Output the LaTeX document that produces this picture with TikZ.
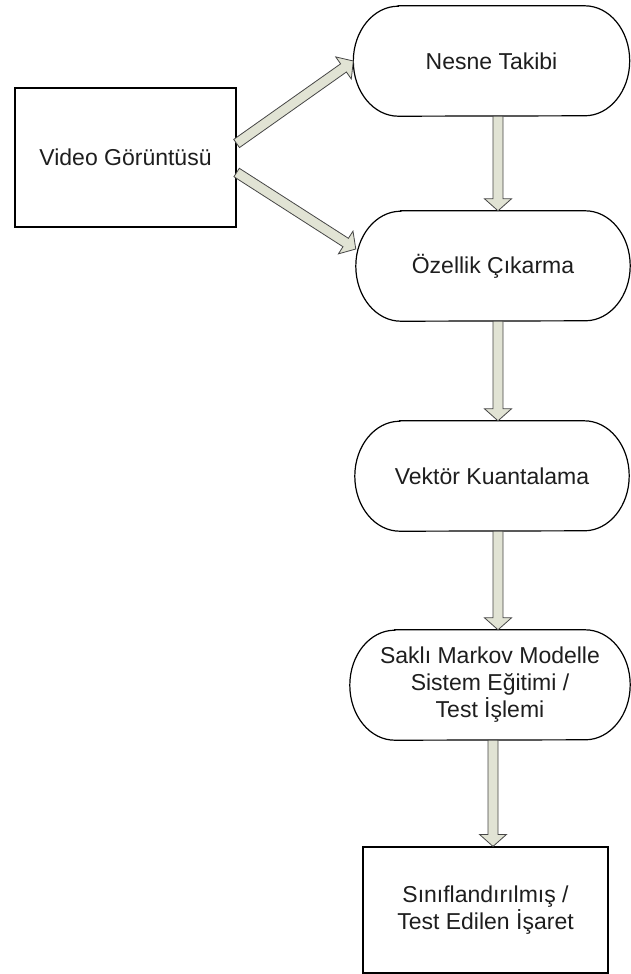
\documentclass[tikz,border=0pt]{standalone}
\usepackage{fontspec}
\setmainfont{Liberation Sans}
\usetikzlibrary{calc}
\definecolor{arrowfill}{RGB}{225,227,212}
\definecolor{arrowline}{RGB}{70,70,70}
\definecolor{txt}{RGB}{30,30,30}
\tikzset{
  nodeline/.style={draw=black, line width=1.2pt},
  boxnode/.style={nodeline, fill=white, inner sep=0pt, align=center, text=txt,
    font=\fontsize{23pt}{27pt}\selectfont},
  stadnode/.style={draw=none, inner sep=0pt, align=center, text=txt,
    font=\fontsize{23pt}{27pt}\selectfont, minimum height=110pt},
  fatarrowstyle/.style={draw=arrowline, fill=arrowfill, line width=0.8pt, line join=miter}
}
\newcommand\stadiumoutline[1]{%
  \draw[nodeline] ([xshift=45pt]#1.north west) -- ([xshift=-45pt]#1.north east)
    arc[start angle=90, end angle=-90, x radius=45pt, y radius=55pt]
    -- ([xshift=45pt]#1.south west)
    arc[start angle=270, end angle=90, x radius=45pt, y radius=55pt] -- cycle;}
\newcommand\fatarrow[2]{%
  \draw[fatarrowstyle] let \p1=(#1), \p2=(#2),
    \n1={atan2(\y2-\y1,\x2-\x1)}, \n2={veclen(\x2-\x1,\y2-\y1)} in
    [shift={(\p1)}, rotate=\n1]
    (0pt,-5pt) -- (\n2-12pt,-5pt) -- (\n2-12pt,-13.5pt) -- (\n2,0pt)
    -- (\n2-12pt,13.5pt) -- (\n2-12pt,5pt) -- (0pt,5pt) -- cycle;}
\begin{document}
\begin{tikzpicture}[x=1pt,y=-1pt]
\useasboundingbox (0,0) rectangle (631,974);
\fill[white] (0,0) rectangle (631,974);

\node[boxnode, minimum width=221pt, minimum height=139pt] (video) at (125.5,157.5) {Video Görüntüsü};
\node[stadnode, minimum width=276pt] (nesne) at (491.5,61) {Nesne Takibi};
\node[stadnode, minimum width=274pt] (ozellik) at (493,266) {Özellik Çıkarma};
\node[stadnode, minimum width=274pt] (vektor) at (492,476) {Vektör Kuantalama};
\node[stadnode, minimum width=280pt] (sakli) at (490,685) {Saklı Markov Modelle\\Sistem Eğitimi /\\Test İşlemi};
\node[boxnode, minimum width=245pt, minimum height=126pt] (sinif) at (485.5,910) {Sınıflandırılmış /\\Test Edilen İşaret};

\stadiumoutline{nesne}
\stadiumoutline{ozellik}
\stadiumoutline{vektor}
\stadiumoutline{sakli}

\fatarrow{[yshift=14pt]video.east}{nesne.west}
\fatarrow{[yshift=-15pt]video.east}{[yshift=17pt]ozellik.west}
\fatarrow{[xshift=6.5pt]nesne.south}{[xshift=5pt]ozellik.north}
\fatarrow{[xshift=5pt]ozellik.south}{[xshift=6pt]vektor.north}
\fatarrow{[xshift=6pt]vektor.south}{[xshift=8pt]sakli.north}
\fatarrow{[xshift=3pt]sakli.south}{[xshift=7.5pt]sinif.north}
\end{tikzpicture}
\end{document}
